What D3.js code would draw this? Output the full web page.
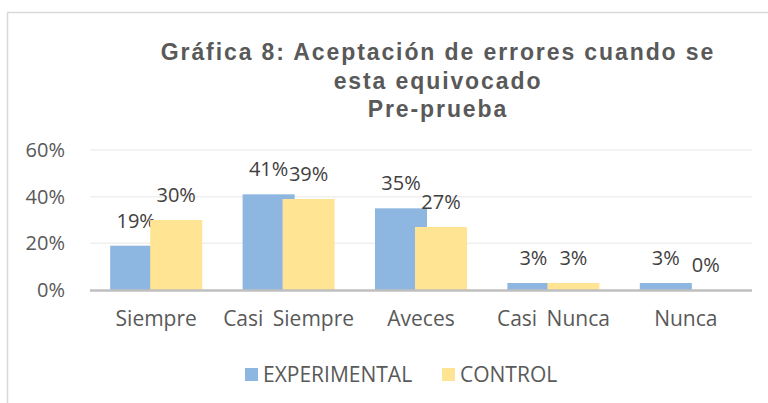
<!DOCTYPE html>
<html>
<head>
<meta charset="utf-8">
<script src="https://cdn.jsdelivr.net/npm/d3@7"></script>
<style>
  body { margin: 0; background: #fff; }
  svg { display: block; font-family: "Open Sans", sans-serif; }
</style>
</head>
<body>
<div id="chart-area"></div>
<script>
var categories = ["Siempre", "Casi Siempre", "Aveces", "Casi Nunca", "Nunca"]
var seriesNames = ["EXPERIMENTAL", "CONTROL"]
var experimental = [19, 41, 35, 3, 3]
var control = [30, 39, 27, 3, 0]
var yTicks = [0, 20, 40, 60]
var titleLines = ["Gráfica 8: Aceptación de errores cuando se", "esta equivocado", "Pre-prueba"]

var colors = ["#8db6e1", "#ffe593"]
var W = 768, H = 403
var margin = { left: 90, right: 16, top: 150, bottom: 113 }
var width = W - margin.left - margin.right,
    height = H - margin.top - margin.bottom

var svg = d3.select("#chart-area")
    .append("svg")
    .attr("width", W)
    .attr("height", H)

// chart frame
svg.append("rect")
    .attr("x", 7.5).attr("y", 12.5)
    .attr("width", W + 20).attr("height", H + 20)
    .attr("fill", "none")
    .attr("stroke", "#d9d9d9")
    .attr("stroke-width", 1.5)

var title = svg.append("text")
    .attr("text-anchor", "middle")
    .attr("font-family", "Liberation Sans, Arial, sans-serif")
    .attr("font-weight", "bold")
    .attr("font-size", "23px")
    .attr("letter-spacing", "1.9px")
    .attr("fill", "#595959")
titleLines.forEach((t, i) => {
    title.append("tspan")
        .attr("x", 438)
        .attr("y", 60 + i * 28.5)
        .text(t)
})

var g = svg.append("g")
    .attr("transform", "translate(" + margin.left + ", " + margin.top + ")")

var x = d3.scaleBand()
    .domain(categories)
    .range([0, width])
var y = d3.scaleLinear()
    .domain([0, 60])
    .range([height, 0])

// grid
g.selectAll(".grid")
    .data(yTicks.slice(1))
    .enter().append("line")
    .attr("x1", 0).attr("x2", width)
    .attr("y1", d => y(d)).attr("y2", d => y(d))
    .attr("stroke", "#efefef")
    .attr("stroke-width", 1.5)

var yAxisCall = d3.axisLeft(y)
    .tickValues(yTicks)
    .tickSize(0)
    .tickPadding(25)
    .tickFormat(d => d + "%")
var yAxis = g.append("g").call(yAxisCall)
yAxis.select(".domain").remove()
yAxis.selectAll("text")
    .attr("font-size", "20px")
    .attr("font-family", "Open Sans, sans-serif")
    .attr("fill", "#595959")

// bars
var barW = 52, step = 40
var groupW = barW + step
var series = [experimental, control]
series.forEach((vals, s) => {
    g.selectAll(".bar" + s)
        .data(vals)
        .enter().append("rect")
        .attr("x", (d, i) => x(categories[i]) + x.bandwidth() / 2 - groupW / 2 + s * step)
        .attr("y", d => y(d))
        .attr("width", barW)
        .attr("height", d => height - y(d))
        .attr("fill", colors[s])

    g.selectAll(".lab" + s)
        .data(vals)
        .enter().append("text")
        .attr("x", (d, i) => x(categories[i]) + x.bandwidth() / 2 - groupW / 2 + s * step + barW / 2)
        .attr("y", d => y(d) - 18)
        .attr("text-anchor", "middle")
        .attr("font-size", "20px")
        .attr("fill", "#404040")
        .text(d => d + "%")
})

// x axis
g.append("line")
    .attr("x1", 0).attr("x2", width)
    .attr("y1", height + 0.5).attr("y2", height + 0.5)
    .attr("stroke", "#bfbfbf")
    .attr("stroke-width", 2.5)

var xAxisCall = d3.axisBottom(x).tickSize(0).tickPadding(21)
var xAxis = g.append("g")
    .attr("transform", "translate(0," + height + ")")
    .call(xAxisCall)
xAxis.select(".domain").remove()
xAxis.selectAll("text")
    .attr("font-size", "21px")
    .attr("font-family", "Open Sans, sans-serif")
    .attr("word-spacing", "4px")
    .attr("fill", "#595959")

// legend
var legendX = [245, 442]
var legend = svg.selectAll(".legend")
    .data(seriesNames)
    .enter().append("g")
    .attr("transform", (d, i) => "translate(" + legendX[i] + ",368)")
legend.append("rect")
    .attr("width", 13).attr("height", 13)
    .attr("fill", (d, i) => colors[i])
legend.append("text")
    .attr("x", 18).attr("y", 13.5)
    .attr("font-size", "21px")
    .attr("fill", "#595959")
    .text(d => d)
</script>
</body>
</html>
